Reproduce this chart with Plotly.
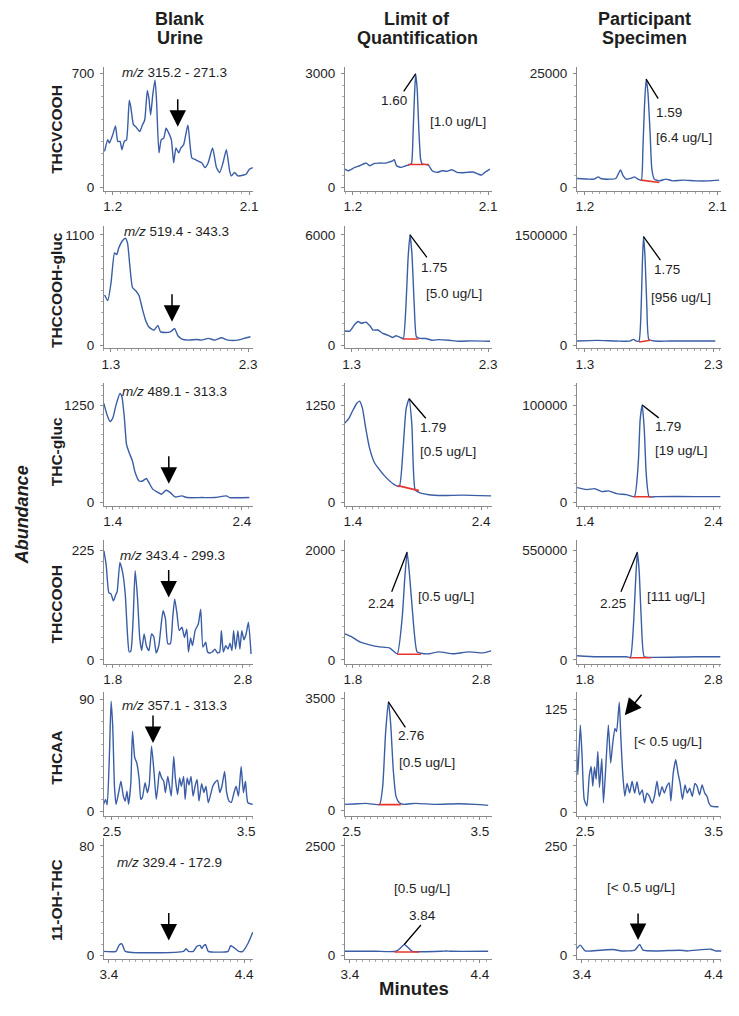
import plotly.graph_objects as go

# ---------------- data (minutes, abundance) ----------------
blank_thcvcooh = [(1.146,221),(1.167,292),(1.178,272),(1.2,323),(1.218,378),(1.233,282),(1.248,282),(1.261,231),(1.276,282),(1.291,292),(1.309,536),(1.319,495),(1.337,384),(1.352,373),(1.378,343),(1.396,384),(1.411,414),(1.428,597),(1.439,546),(1.45,445),(1.465,577),(1.479,662),(1.489,536),(1.505,211),(1.52,292),(1.537,302),(1.552,363),(1.57,333),(1.587,292),(1.602,150),(1.617,242),(1.635,211),(1.65,242),(1.668,262),(1.696,384),(1.722,181),(1.743,171),(1.765,160),(1.787,150),(1.809,120),(1.83,150),(1.859,242),(1.885,120),(1.906,90),(1.928,150),(1.95,231),(1.972,99),(1.983,69),(2.004,90),(2.026,69),(2.059,73),(2.08,79),(2.102,110),(2.124,120)]
loq_thcvcooh = [(1.147,477),(1.169,432),(1.213,522),(1.246,565),(1.29,636),(1.312,565),(1.345,628),(1.378,636),(1.421,636),(1.448,671),(1.465,697),(1.476,724),(1.491,565),(1.52,522),(1.553,565),(1.575,591),(1.59,620),(1.601,1450),(1.61,2400),(1.618,2995),(1.628,2600),(1.64,1450),(1.651,742),(1.662,610),(1.684,600),(1.706,565),(1.728,432),(1.761,390),(1.794,432),(1.826,420),(1.859,459),(1.892,390),(1.925,380),(1.958,390),(2.0,400),(2.034,345),(2.056,318),(2.078,390),(2.111,477)]
spec_thcvcooh = [(1.146,1905),(1.236,1752),(1.262,1752),(1.292,2256),(1.307,1905),(1.37,1752),(1.41,1905),(1.442,3789),(1.46,2475),(1.482,1752),(1.516,1971),(1.538,2256),(1.56,1752),(1.583,1533),(1.594,8322),(1.605,18000),(1.616,23805),(1.628,21000),(1.643,11979),(1.655,3942),(1.672,1752),(1.706,1380),(1.751,1752),(1.795,1380),(1.863,1533),(1.952,1380),(2.041,1380),(2.113,1533)]

blank_thccooh_gluc = [(1.255,501),(1.278,445),(1.302,625),(1.327,920),(1.343,903),(1.358,969),(1.381,1034),(1.406,1067),(1.422,1018),(1.439,789),(1.458,576),(1.482,543),(1.506,494),(1.53,363),(1.554,248),(1.578,183),(1.614,150),(1.643,199),(1.662,134),(1.698,128),(1.734,134),(1.765,167),(1.789,95),(1.818,62),(1.866,52),(1.925,58),(1.96,52),(2.01,69),(2.06,52),(2.106,75),(2.154,52),(2.226,52),(2.286,75),(2.317,85)]
loq_thccooh_gluc = [(1.251,776),(1.288,776),(1.324,1147),(1.348,1296),(1.372,1202),(1.404,1258),(1.433,1075),(1.457,831),(1.493,831),(1.529,648),(1.565,554),(1.601,427),(1.626,521),(1.662,410),(1.679,371),(1.699,2216),(1.713,4600),(1.728,6005),(1.742,5000),(1.759,2216),(1.775,465),(1.8,380),(1.843,371),(1.891,277),(1.94,310),(2.012,277),(2.085,222),(2.182,240),(2.314,222)]
spec_thccooh_gluc = [(1.238,58000),(1.392,67000),(1.546,58000),(1.649,58000),(1.679,81000),(1.7,58000),(1.721,58000),(1.738,531000),(1.747,1100000),(1.756,1477000),(1.768,1200000),(1.782,531000),(1.798,81000),(1.841,58000),(1.956,58000),(2.162,58000),(2.315,58000)]

blank_thc_gluc = [(1.331,1271),(1.356,1122),(1.379,1038),(1.4,1080),(1.425,1249),(1.456,1398),(1.471,1356),(1.489,1102),(1.507,741),(1.528,636),(1.553,530),(1.574,381),(1.604,276),(1.63,276),(1.66,309),(1.681,254),(1.711,169),(1.744,136),(1.777,106),(1.813,157),(1.846,127),(1.884,72),(1.936,85),(1.974,64),(2.089,64),(2.19,64),(2.28,85),(2.305,64),(2.458,64)]
loq_thc_gluc = [(1.338,1020),(1.37,1080),(1.4,1180),(1.43,1270),(1.452,1300),(1.475,1210),(1.5,960),(1.53,700),(1.569,510),(1.646,345),(1.723,230),(1.762,205),(1.792,700),(1.815,1200),(1.838,1330),(1.86,1000),(1.885,166),(1.915,130),(1.992,100),(2.1,90),(2.25,95),(2.477,85)]
spec_thc_gluc = [(1.338,15300),(1.415,13260),(1.477,14280),(1.531,11220),(1.585,12000),(1.646,9180),(1.723,8160),(1.785,6120),(1.815,40000),(1.83,85000),(1.846,100000),(1.862,75000),(1.877,30000),(1.9,6000),(1.954,6120),(2.262,6120),(2.454,6120)]

blank_thccooh = [(1.732,224),(1.749,196),(1.77,138),(1.787,135),(1.805,121),(1.825,135),(1.834,140),(1.855,200),(1.876,179),(1.896,135),(1.913,53),(1.926,16),(1.939,18),(1.957,87),(1.972,183),(1.99,128),(2.007,46),(2.022,19),(2.041,53),(2.058,29),(2.078,19),(2.098,53),(2.115,48),(2.134,14),(2.154,29),(2.174,77),(2.187,101),(2.205,84),(2.223,33),(2.243,33),(2.261,87),(2.276,125),(2.294,94),(2.311,60),(2.332,67),(2.351,46),(2.369,63),(2.382,16),(2.398,45),(2.413,29),(2.433,60),(2.458,74),(2.476,104),(2.493,26),(2.514,36),(2.529,16),(2.547,14),(2.565,16),(2.585,22),(2.605,14),(2.622,16),(2.635,60),(2.65,16),(2.668,29),(2.686,22),(2.701,34),(2.716,19),(2.729,60),(2.744,22),(2.762,60),(2.777,22),(2.792,60),(2.808,41),(2.825,53),(2.843,77),(2.863,12)]
loq_thccooh = [(1.738,473),(1.792,418),(1.854,327),(1.931,273),(2.008,236),(2.085,218),(2.146,109),(2.185,782),(2.205,1500),(2.223,1964),(2.24,1600),(2.262,964),(2.3,145),(2.331,120),(2.392,109),(2.469,145),(2.585,109),(2.7,145),(2.815,127),(2.877,164)]
spec_thccooh = [(1.738,20000),(1.892,15000),(2.123,15000),(2.154,12000),(2.177,165000),(2.195,400000),(2.208,540000),(2.222,450000),(2.238,215000),(2.262,15000),(2.315,12000),(2.662,15000),(2.854,15000)]

blank_thcaa = [(2.439,5.4),(2.454,9.4),(2.466,5),(2.483,47),(2.495,88.7),(2.507,68.5),(2.52,20),(2.532,5.4),(2.551,14.8),(2.568,24),(2.586,12),(2.6,8),(2.613,16),(2.625,5.4),(2.642,22.8),(2.654,64.5),(2.671,43),(2.686,39),(2.704,25.5),(2.716,9.4),(2.728,11),(2.748,22.8),(2.765,14.8),(2.779,21.5),(2.796,52.4),(2.814,32),(2.831,9.4),(2.843,20),(2.855,32),(2.87,27),(2.887,24),(2.899,14.8),(2.917,28),(2.93,20),(2.943,12),(2.961,44),(2.973,27),(2.99,13.4),(3.005,26.8),(3.018,20),(3.035,28),(3.046,9.4),(3.061,26.8),(3.075,21),(3.09,28),(3.105,12),(3.12,20),(3.135,25.5),(3.149,8),(3.169,22),(3.186,15),(3.201,20),(3.218,6.7),(3.235,13),(3.252,20),(3.267,22.8),(3.287,25),(3.304,15),(3.32,20),(3.34,32),(3.355,15),(3.373,8),(3.39,7),(3.41,15),(3.426,20),(3.443,12),(3.463,36),(3.48,14.8),(3.495,24),(3.513,6.7),(3.549,5.4)]
loq_thcaa = [(2.435,178),(2.52,190),(2.615,209),(2.718,178),(2.743,749),(2.765,2400),(2.787,3400),(2.805,2700),(2.825,1270),(2.846,437),(2.872,228),(2.9,180),(3.0,209),(3.154,178),(3.333,197),(3.462,178),(3.564,147)]
spec_thcaa = [(2.431,82),(2.442,45.6),(2.45,70),(2.462,106),(2.475,70),(2.492,15.4),(2.513,7.3),(2.531,43.6),(2.546,55.7),(2.559,31.5),(2.572,55),(2.585,40),(2.598,73.8),(2.611,30),(2.629,65),(2.642,11.3),(2.66,55),(2.68,106),(2.698,59.7),(2.713,82),(2.731,102),(2.744,98),(2.765,134),(2.777,92),(2.79,51.6),(2.808,19.4),(2.826,35),(2.846,23.4),(2.865,37.5),(2.885,23),(2.903,37),(2.923,21),(2.944,27),(2.962,11.3),(2.98,23),(3.0,19),(3.021,11),(3.039,19),(3.059,37.5),(3.077,19),(3.098,31),(3.116,23),(3.134,31),(3.154,35.5),(3.167,13.3),(3.185,47),(3.205,63.8),(3.223,47),(3.239,35),(3.257,15.4),(3.277,33),(3.295,23),(3.313,29),(3.334,19),(3.354,35),(3.372,31),(3.39,21),(3.41,33),(3.431,23),(3.449,19),(3.462,11.3),(3.48,7.3),(3.538,6.4)]

blank_11oh = [(3.356,2.9),(3.453,2.9),(3.478,7.7),(3.497,8.4),(3.522,2.9),(3.952,2.9),(3.972,4.8),(3.989,2.9),(4.025,2.9),(4.05,6.5),(4.074,7.2),(4.088,5),(4.1,7),(4.115,7.7),(4.135,2.9),(4.281,2.9),(4.3,7),(4.32,6),(4.36,2.9),(4.39,2.9),(4.43,9),(4.464,16.8)]
loq_11oh = [(3.337,92),(3.6,92),(3.755,92),(3.79,170),(3.818,247),(3.85,170),(3.881,92),(4.1,92),(4.14,100),(4.18,92),(4.463,92)]
spec_11oh = [(3.35,11.7),(3.387,23.3),(3.425,10),(3.538,11.7),(3.638,13.2),(3.7,10),(3.801,11.7),(3.838,25),(3.864,11.7),(3.97,10),(4.139,11.7),(4.2,10),(4.377,14),(4.415,10),(4.465,10)]

# integration baselines (red)
baselines = {
    (0, 1): [(1.568, 600), (1.706, 600)],
    (0, 2): [(1.583, 1533), (1.706, 1000)],
    (1, 1): [(1.674, 340), (1.79, 340)],
    (1, 2): [(1.721, 45000), (1.81, 70000)],
    (2, 1): [(1.75, 217), (1.915, 153)],
    (2, 2): [(1.777, 6000), (1.915, 6000)],
    (3, 1): [(2.146, 100), (2.331, 100)],
    (3, 2): [(2.146, 10000), (2.315, 10000)],
    (4, 1): [(2.712, 170), (2.885, 170)],
    (5, 1): [(3.745, 75), (3.932, 75)],
}

analytes = ["THCVCOOH", "THCCOOH-gluc", "THC-gluc", "THCCOOH", "THCAA", "11-OH-THC"]
transitions = ["315.2 - 271.3", "519.4 - 343.3", "489.1 - 313.3", "343.4 - 299.3", "357.1 - 313.3", "329.4 - 172.9"]
column_titles = [("Blank", "Urine"), ("Limit of", "Quantification"), ("Participant", "Specimen")]
x_ticks = [(1.2, 2.1), (1.3, 2.3), (1.4, 2.4), (1.8, 2.8), (2.5, 3.5), (3.4, 4.4)]
y_max_ticks = [[700, 3000, 25000], [1100, 6000, 1500000], [1250, 1250, 100000],
               [225, 2000, 550000], [90, 3500, 125], [80, 2500, 250]]
retention_times = {(0, 1): "1.60", (0, 2): "1.59", (1, 1): "1.75", (1, 2): "1.75", (2, 1): "1.79",
                   (2, 2): "1.79", (3, 1): "2.24", (3, 2): "2.25", (4, 1): "2.76", (5, 1): "3.84"}
concentrations = {(0, 1): "[1.0 ug/L]", (0, 2): "[6.4 ug/L]", (1, 1): "[5.0 ug/L]", (1, 2): "[956 ug/L]",
                  (2, 1): "[0.5 ug/L]", (2, 2): "[19 ug/L]", (3, 1): "[0.5 ug/L]", (3, 2): "[111 ug/L]",
                  (4, 1): "[0.5 ug/L]", (5, 1): "[0.5 ug/L]", (4, 2): "[< 0.5 ug/L]", (5, 2): "[< 0.5 ug/L]"}
# peak apex used for the retention-time leader lines
peak_apex = {(0, 1): (1.618, 2995), (0, 2): (1.616, 23805), (1, 1): (1.728, 6005), (1, 2): (1.756, 1477000),
             (2, 1): (1.838, 1330), (2, 2): (1.846, 100000), (3, 1): (2.223, 1964), (3, 2): (2.208, 540000),
             (4, 1): (2.787, 3400), (5, 1): (3.818, 247)}
# expected retention position marked by arrows (blank column + specimens below LOQ)
blank_arrows = [(1.629, 373), (1.746, 236), (1.834, 241), (2.23, 128), (2.807, 55), (3.843, 10.8)]
specimen_arrows = {(4, 2): (2.808, 118), (5, 2): (3.826, 35)}

panels = [
    [blank_thcvcooh, loq_thcvcooh, spec_thcvcooh],
    [blank_thccooh_gluc, loq_thccooh_gluc, spec_thccooh_gluc],
    [blank_thc_gluc, loq_thc_gluc, spec_thc_gluc],
    [blank_thccooh, loq_thccooh, spec_thccooh],
    [blank_thcaa, loq_thcaa, spec_thcaa],
    [blank_11oh, loq_11oh, spec_11oh],
]

# ---------------- layout geometry (pixels in the target picture) ----------------
W, H = 739, 1016
OFF = 8  # page body margin of the rendered html
COLS = [(101, 252), (345, 494), (580, 726)]
ROWS = [(67, 192), (227, 350), (385, 508), (543, 667), (695, 820), (842, 964)]
ZERO_PX = [188, 347, 505, 663, 815, 960]
MAX_PX = [74, 236, 407, 553, 703, 850]
YPX_OVERRIDE = {(4, 1): (814, 702), (4, 2): (816, 713)}
XTICK_PX = [
    [(110, 248), (353, 490), (588, 722)],
    [(108, 247), (351.7, 490), (588, 718)],
    [(110, 240.7), (353, 483), (588, 718)],
    [(110, 241.7), (353, 483), (588, 718)],
    [(109, 245), (351.7, 481.7), (588.3, 718.3)],
    [(106, 243), (350, 481.7), (585, 718.3)],
]
# leader line offset, rt-label offset, conc-label offset (px, down positive)
LABEL_OFFS = {
    (0, 1): ((-13, 19), (-22, 27), (42, 48)),
    (0, 2): ((13, 21), (23, 33), (38, 58)),
    (1, 1): ((18, 24), (24, 33), (44, 59)),
    (1, 2): ((18, 25), (24, 33), (38, 61)),
    (2, 1): ((18, 21), (24, 29), (39, 53)),
    (2, 2): ((18, 14), (26, 21), (39, 45)),
    (3, 1): ((-16, 41), (-26, 51), (39, 44)),
    (3, 2): ((-17, 41), (-24, 51), (39, 44)),
    (4, 1): ((18, 27), (23, 34), (39, 61)),
    (5, 1): ((18, -21), (18, -29), (18, -56)),
}
SPEC_ARROW_OFFS = {(4, 2): ((18, -22), (43, 26)), (5, 2): ((0, -28), (3, -52))}
MZ_PX = [(173, 73), (175, 233), (172, 393), (170, 558), (172, 709), (167, 867)]
ROW_LABEL_Y = [130, 291, 454, 607, 761, 904]
COL_TITLE_X = [178, 418, 648]


def px_x(p):
    return (p - OFF) / W


def px_y(p):
    return 1 - (p - OFF) / H


FONT = "Liberation Sans, Arial, sans-serif"
BLUE = "#3a5da6"
RED = "#e8352b"
AXC = "#8a8a8a"
TXT = "#1e1e1e"
TF = 13.5

fig = go.Figure()
annotations = []
layout = {}

for r in range(6):
    for c in range(3):
        k = r * 3 + c + 1
        sfx = "" if k == 1 else str(k)
        xs = [p[0] for p in panels[r][c]]
        ys = [p[1] for p in panels[r][c]]
        fig.add_trace(go.Scatter(x=xs, y=ys, mode="lines", xaxis="x" + sfx, yaxis="y" + sfx,
                                 line=dict(color=BLUE, width=1.4, shape="spline", smoothing=0.5),
                                 hoverinfo="skip", showlegend=False))
        if (r, c) in baselines:
            b = baselines[(r, c)]
            fig.add_trace(go.Scatter(x=[p[0] for p in b], y=[p[1] for p in b], mode="lines",
                                     xaxis="x" + sfx, yaxis="y" + sfx,
                                     line=dict(color=RED, width=1.6), hoverinfo="skip", showlegend=False))
        L, R = COLS[c]
        top, bot = ROWS[r]
        v1, v2 = x_ticks[r]
        t1, t2 = XTICK_PX[r][c]
        s = (v2 - v1) / (t2 - t1)
        xr = [v1 - (t1 - L) * s, v2 + (R - t2) * s]
        y0, yM = YPX_OVERRIDE.get((r, c), (ZERO_PX[r], MAX_PX[r]))
        M = y_max_ticks[r][c]
        sy = M / (y0 - yM)
        yr = [-(bot - y0) * sy, (y0 - top) * sy]
        layout["xaxis" + sfx] = dict(
            domain=[px_x(L), px_x(R)], range=xr, anchor="y" + sfx, showline=True, linecolor=AXC, linewidth=1,
            tickmode="array", tickvals=[v1, v2], ticktext=[f"{v1:.1f}", f"{v2:.1f}"],
            ticks="outside", ticklen=3, tickcolor=AXC, showgrid=False, zeroline=False,
            tickfont=dict(family=FONT, size=TF, color=TXT),
            minor=dict(ticks="outside", ticklen=2, tickcolor="#aaaaaa", dtick=0.05, tick0=0, showgrid=False))
        layout["yaxis" + sfx] = dict(
            domain=[px_y(bot), px_y(top)], range=yr, anchor="x" + sfx, showline=True, linecolor=AXC,
            linewidth=1, tickmode="array", tickvals=[0, M], ticktext=["0", str(M)],
            ticks="outside", ticklen=3, tickcolor=AXC, showgrid=False, zeroline=False,
            tickfont=dict(family=FONT, size=TF, color=TXT), ticklabelstandoff=3,
            minor=dict(ticks="outside", ticklen=2, tickcolor="#aaaaaa", dtick=M / 10, tick0=0, showgrid=False))

        xref, yref = "x" + sfx, "y" + sfx
        if (r, c) in LABEL_OFFS:
            px, py = peak_apex[(r, c)]
            lead, rt, conc = LABEL_OFFS[(r, c)]
            annotations.append(dict(x=px, y=py, xref=xref, yref=yref, text="", showarrow=True,
                                    ax=lead[0], ay=lead[1], arrowhead=0, arrowwidth=1.3, arrowcolor="black"))
            annotations.append(dict(x=px, y=py, xref=xref, yref=yref, text=retention_times[(r, c)],
                                    showarrow=False, xshift=rt[0], yshift=-rt[1], xanchor="center",
                                    yanchor="middle", font=dict(family=FONT, size=TF, color=TXT)))
            annotations.append(dict(x=px, y=py, xref=xref, yref=yref, text=concentrations[(r, c)],
                                    showarrow=False, xshift=conc[0], yshift=-conc[1], xanchor="center",
                                    yanchor="middle", font=dict(family=FONT, size=TF, color=TXT)))
        if c == 0:
            ax_, ay_ = blank_arrows[r]
            annotations.append(dict(x=ax_, y=ay_, xref=xref, yref=yref, text="", showarrow=True,
                                    ax=0, ay=-29, arrowhead=2, arrowsize=2.2, arrowwidth=1.5,
                                    arrowcolor="black"))
        if (r, c) in specimen_arrows:
            tx, ty = specimen_arrows[(r, c)]
            (oax, oay), (dx, dy) = SPEC_ARROW_OFFS[(r, c)]
            annotations.append(dict(x=tx, y=ty, xref=xref, yref=yref, text="", showarrow=True,
                                    ax=oax, ay=oay, arrowhead=2, arrowsize=2.2, arrowwidth=1.5,
                                    arrowcolor="black"))
            annotations.append(dict(x=tx, y=ty, xref=xref, yref=yref, text=concentrations[(r, c)],
                                    showarrow=False, xshift=dx, yshift=-dy, xanchor="center",
                                    yanchor="middle", font=dict(family=FONT, size=TF, color=TXT)))

for r in range(6):
    mx, my = MZ_PX[r]
    annotations.append(dict(x=px_x(mx), y=px_y(my), xref="paper", yref="paper", showarrow=False,
                            xanchor="center", yanchor="middle",
                            text=f"<i>m/z</i> {transitions[r]}", font=dict(family=FONT, size=TF, color=TXT)))
    annotations.append(dict(x=px_x(53), y=px_y(ROW_LABEL_Y[r]), xref="paper", yref="paper", showarrow=False,
                            xanchor="center", yanchor="middle", text=f"<b>{analytes[r]}</b>", textangle=-90,
                            font=dict(family=FONT, size=15.5, color=TXT)))
for c in range(3):
    for line, ty in zip(column_titles[c], (19, 38)):
        annotations.append(dict(x=px_x(COL_TITLE_X[c]), y=px_y(ty), xref="paper", yref="paper",
                                showarrow=False, xanchor="center", yanchor="middle", text=f"<b>{line}</b>",
                                font=dict(family=FONT, size=18, color=TXT)))
annotations.append(dict(x=px_x(19), y=px_y(517), xref="paper", yref="paper", showarrow=False,
                        xanchor="center", yanchor="middle",
                        text="<b><i>Abundance</i></b>", textangle=-90, font=dict(family=FONT, size=18, color=TXT)))
annotations.append(dict(x=px_x(415), y=px_y(993), xref="paper", yref="paper", showarrow=False,
                        xanchor="center", yanchor="middle",
                        text="<b>Minutes</b>", font=dict(family=FONT, size=18.5, color=TXT)))

fig.update_layout(width=W, height=H, margin=dict(l=0, r=0, t=0, b=0), paper_bgcolor="white",
                  plot_bgcolor="white", showlegend=False, annotations=annotations, **layout)
fig.write_html("out.html")
